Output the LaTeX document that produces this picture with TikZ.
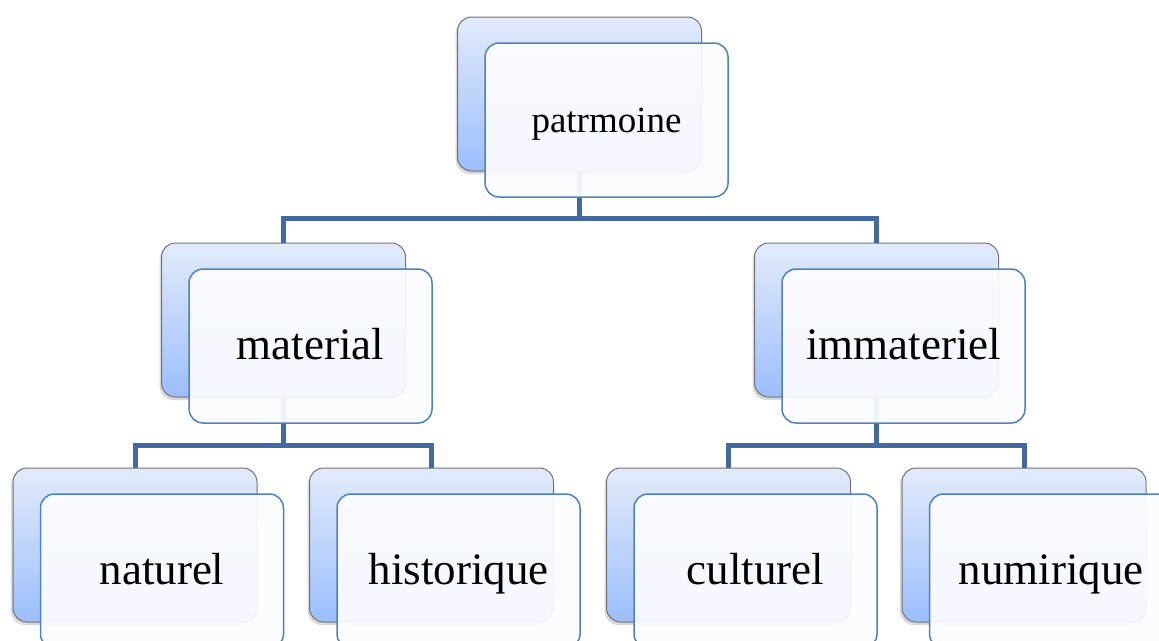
\documentclass[tikz,border=0pt]{standalone}
\usepackage{fontspec}
\setmainfont{Liberation Serif}
\usetikzlibrary{shadows}

\definecolor{linkblue}{RGB}{66,106,160}
\definecolor{frontblue}{RGB}{79,129,189}
\definecolor{frontfill}{RGB}{251,252,255}
\definecolor{cardtop}{RGB}{226,235,251}
\definecolor{cardbottom}{RGB}{156,190,252}

\tikzset{
    % Card styles - back card with gradient, front card see-through
    back card/.style={rectangle, rounded corners=14pt, minimum width=244pt, minimum height=154pt,
        inner sep=0pt, draw=black!55, line width=1pt, top color=cardtop, bottom color=cardbottom,
        drop shadow={shadow xshift=-2pt, shadow yshift=-3pt, opacity=0.3}},
    front card/.style={rectangle, rounded corners=14pt, minimum width=243pt, minimum height=154pt,
        inner sep=0pt, draw=frontblue, line width=1.5pt, fill=frontfill, fill opacity=0.93,
        text opacity=1, text=black},
    % Label styles
    big label/.style={font=\fontsize{45}{54}\selectfont, text height=36pt, text depth=10pt},
    small label/.style={font=\fontsize{37}{44}\selectfont, text height=33pt, text depth=9pt},
    % Tree links
    link/.style={line width=5pt, linkblue},
}

\begin{document}
\begin{tikzpicture}[x=1pt, y=-1pt]
    \useasboundingbox (0,0) rectangle (1159,640);
    \clip (0,0) rectangle (1159,640);

    % Back cards
    \node[back card] (pat b) at (579.5,94) {};
    \node[back card] (mat b) at (283.5,320) {};
    \node[back card] (imm b) at (876.5,320) {};
    \node[back card] (nat b) at (135,545) {};
    \node[back card] (his b) at (431.5,545) {};
    \node[back card] (cul b) at (728.5,545) {};
    \node[back card] (num b) at (1024,545) {};

    % Links
    \coordinate (j1) at (579.5,218);
    \coordinate (j2) at (283.5,445);
    \coordinate (j3) at (876.5,445);
    \draw[link] (pat b.south) -- (j1) -| (mat b.north);
    \draw[link] (j1) -| (imm b.north);
    \draw[link] (mat b.south) -- (j2) -| (nat b.north);
    \draw[link] (j2) -| (his b.north);
    \draw[link] (imm b.south) -- (j3) -| (cul b.north);
    \draw[link] (j3) -| (num b.north);

    % Front cards
    \node[front card, small label] (pat) at ([shift={(27,26)}]pat b.center) {patrmoine};
    \node[front card, big label] (mat) at ([shift={(27,26)}]mat b.center) {material};
    \node[front card, big label] (imm) at ([shift={(27,26)}]imm b.center) {immateriel};
    \node[front card, big label] (nat) at ([shift={(27,26)}]nat b.center) {naturel};
    \node[front card, big label] (his) at ([shift={(27,26)}]his b.center) {historique};
    \node[front card, big label] (cul) at ([shift={(27,26)}]cul b.center) {culturel};
    \node[front card, big label] (num) at ([shift={(27,26)}]num b.center) {numirique};
\end{tikzpicture}
\end{document}
